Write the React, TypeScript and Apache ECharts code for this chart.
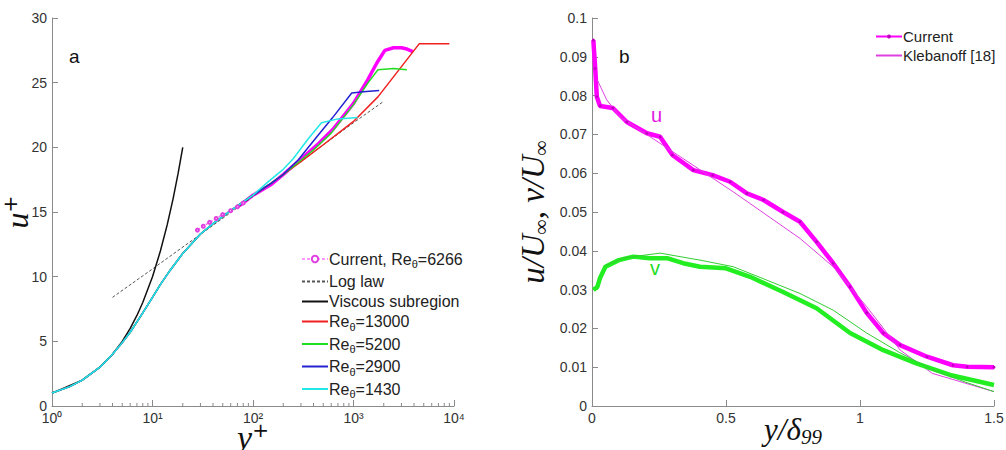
import React, { useEffect, useRef } from "react";
import * as echarts from "echarts";

// ---------- Panel a data: (y+, u+) ----------
const viscousSubregion: [number, number][] = [
  [1, 1], [2, 2], [3, 3], [4, 4], [5, 5], [6, 6], [7, 7], [8, 8], [10, 10],
  [12, 12], [14, 14], [16, 16], [18, 18], [20, 20],
];
const logLaw: [number, number][] = [
  [4, 8.4], [10, 10.6], [100, 16.2], [1000, 21.9], [1950, 23.5],
];
const innerProfile: [number, number][] = [
  [1, 1.0], [1.5, 1.5], [2, 2.0], [3, 3.0], [4, 4.0], [5, 4.9], [6, 5.7],
  [7, 6.5], [8, 7.2], [10, 8.4], [12, 9.4], [15, 10.5], [20, 11.8],
  [30, 13.3], [40, 14.1], [60, 15.1], [100, 16.3],
];
const re13000Outer: [number, number][] = [
  [150, 17.2], [200, 17.9], [300, 18.9], [500, 20.2], [1000, 22.0], [1750, 23.9],
  [4500, 28.0], [9000, 28.0],
];
const re5200Outer: [number, number][] = [
  [150, 17.2], [200, 17.9], [300, 19.0], [400, 19.8], [600, 21.1], [1000, 23.3],
  [1400, 25.0], [1750, 26.0], [2500, 26.1], [3400, 26.0],
];
const re2900Outer: [number, number][] = [
  [150, 17.2], [200, 17.9], [280, 19.0], [430, 20.8], [620, 22.3], [960, 24.2],
  [1250, 24.3], [1800, 24.4],
];
const re1430Outer: [number, number][] = [
  [150, 17.5], [200, 18.3], [250, 19.1], [350, 20.6], [480, 21.9],
  [700, 22.2], [1100, 22.3],
];
// sparse (low y+) part of the current profile, drawn with markers
const currentALow: [number, number][] = [
  [28, 13.6], [32, 13.9], [37, 14.2], [43, 14.5], [50, 14.8], [60, 15.1],
  [70, 15.4], [80, 15.7],
];
// dense part of the current profile
const currentAHigh: [number, number][] = [
  [70, 15.4], [80, 15.7], [100, 16.3], [150, 17.1], [200, 17.9], [300, 19.1],
  [450, 20.3], [625, 21.4], [1000, 23.4], [1380, 25.2], [1700, 26.5],
  [2050, 27.5], [2500, 27.7], [3000, 27.7], [3400, 27.6], [3900, 27.4],
];
const xMinorTicksA = [
  2, 3, 4, 5, 6, 7, 8, 9, 20, 30, 40, 50, 60, 70, 80, 90, 200, 300, 400, 500,
  600, 700, 800, 900, 2000, 3000, 4000, 5000, 6000, 7000, 8000, 9000,
];
const legendA = [
  "Current, Reθ=6266", "Log law", "Viscous subregion",
  "Reθ=13000", "Reθ=5200", "Reθ=2900", "Reθ=1430",
];

// ---------- Panel b data: (y/δ99, value) ----------
const currentU: [number, number][] = [
  [0.005, 0.0943], [0.012, 0.087], [0.018, 0.0797], [0.03, 0.0773],
  [0.078, 0.0768], [0.13, 0.0732], [0.205, 0.0703], [0.254, 0.0694],
  [0.30, 0.0647], [0.378, 0.0608], [0.45, 0.0595], [0.515, 0.0578],
  [0.578, 0.0548], [0.64, 0.0531], [0.713, 0.050], [0.776, 0.0475],
  [0.838, 0.0423], [0.90, 0.0368], [0.963, 0.0307], [1.025, 0.024],
  [1.087, 0.0188], [1.15, 0.0157], [1.25, 0.0127], [1.347, 0.0105],
  [1.40, 0.0101], [1.5, 0.0100],
];
const klebanoffU: [number, number][] = [
  [0.02, 0.084], [0.055, 0.0789], [0.105, 0.0745], [0.254, 0.0677],
  [0.527, 0.0552], [0.776, 0.0432], [0.90, 0.0359], [1.025, 0.0256],
  [1.15, 0.0144], [1.27, 0.0084], [1.5, 0.0037],
];
const currentV: [number, number][] = [
  [0.005, 0.0299], [0.02, 0.0307], [0.03, 0.033], [0.05, 0.0359],
  [0.10, 0.0376], [0.154, 0.0385], [0.216, 0.0381], [0.28, 0.0381],
  [0.34, 0.0368], [0.403, 0.0359], [0.50, 0.0355], [0.59, 0.0333],
  [0.713, 0.0294], [0.838, 0.0252], [0.963, 0.0188], [1.087, 0.0144],
  [1.21, 0.011], [1.336, 0.008], [1.5, 0.0054],
];
const klebanoffV: [number, number][] = [
  [0.05, 0.0362], [0.12, 0.0382], [0.254, 0.0394], [0.403, 0.0376],
  [0.527, 0.0359], [0.65, 0.0325], [0.776, 0.029], [0.90, 0.0247],
  [1.025, 0.0188], [1.15, 0.0137], [1.27, 0.0093], [1.4, 0.006],
  [1.5, 0.0037],
];
const legendB = ["Current", "Klebanoff [18]"];

const TICK = "#333";
const AXIS = "#8a8a8a";
const SANS = "'Liberation Sans', Arial, sans-serif";
const SERIF = "'Liberation Serif', 'DejaVu Serif', serif";

const mathName = (size: number) => ({
  fontFamily: SERIF, fontStyle: "italic", fontSize: size, color: "#111",
  rich: {
    sub: { fontFamily: SERIF, fontSize: 21, color: "#111", verticalAlign: "top", padding: [15, 0, 0, 0] },
    sup: { fontFamily: "'DejaVu Sans', sans-serif", fontSize: 20, color: "#111", verticalAlign: "bottom", padding: [0, 0, 14, 0] },
  },
});

export default function App() {
  const ref = useRef<HTMLDivElement>(null);
  useEffect(() => {
    if (!ref.current) return;
    const chart = echarts.init(ref.current, undefined, { renderer: "svg" });
    const thin = (color: string, w = 1.5) => ({ color, width: w });
    const noSym = { opacity: 0 };
    const option: any = {
      animation: false,
      backgroundColor: "#fff",
      grid: [
        { left: 52, top: 18, width: 402, height: 388, outerBoundsMode: "none", containLabel: false },
        { left: 592, top: 18, width: 402, height: 388, outerBoundsMode: "none", containLabel: false },
      ],
      xAxis: [
        {
          gridIndex: 0, type: "log", logBase: 10, min: 1, max: 10000,
          axisLine: { lineStyle: { color: AXIS } },
          axisTick: { inside: true, length: 6, lineStyle: { color: AXIS } },
          splitLine: { show: false },
          axisLabel: {
            color: TICK, fontSize: 14, fontFamily: SANS, margin: 5,
            formatter: (v: number) => "10" + ["⁰", "¹", "²", "³", "⁴"][Math.round(Math.log10(v))],
          },
          name: "y{sup|+}", nameLocation: "middle", nameGap: 14, nameMoveOverlap: false,
          nameTextStyle: mathName(34),
        },
        {
          gridIndex: 1, type: "value", min: 0, max: 1.5, interval: 0.5,
          axisLine: { lineStyle: { color: AXIS } },
          axisTick: { inside: true, length: 6, lineStyle: { color: AXIS } },
          splitLine: { show: false },
          axisLabel: { color: TICK, fontSize: 14, fontFamily: SANS, margin: 5 },
          name: "y/δ{sub|99}", nameLocation: "middle", nameGap: 5, nameMoveOverlap: false,
          nameTextStyle: mathName(31),
        },
      ],
      yAxis: [
        {
          gridIndex: 0, type: "value", min: 0, max: 30, interval: 5,
          axisLine: { show: true, lineStyle: { color: AXIS } },
          axisTick: { show: true, inside: true, length: 6, lineStyle: { color: AXIS } },
          splitLine: { show: false },
          axisLabel: { color: TICK, fontSize: 14, fontFamily: SANS, margin: 5 },
          name: "u{sup|+}", nameLocation: "middle", nameGap: 18, nameRotate: 90, nameMoveOverlap: false,
          nameTextStyle: mathName(32),
        },
        {
          gridIndex: 1, type: "value", min: 0, max: 0.1, interval: 0.01,
          axisLine: { show: true, lineStyle: { color: AXIS } },
          axisTick: { show: true, inside: true, length: 6, lineStyle: { color: AXIS } },
          splitLine: { show: false },
          axisLabel: {
            color: TICK, fontSize: 14, fontFamily: SANS, margin: 5,
            formatter: (v: number) => String(+v.toFixed(2)),
          },
          name: "u/U{sub|∞}, v/U{sub|∞}", nameLocation: "middle", nameGap: 41, nameRotate: 90, nameMoveOverlap: false,
          nameTextStyle: mathName(33),
        },
      ],
      legend: [
        {
          left: 296, top: 246, orient: "vertical", itemWidth: 26, itemHeight: 8, itemGap: 4,
          data: [
            { name: legendA[0], lineStyle: { type: [3, 2], color: "#ff77ff", width: 1.5 }, itemStyle: { color: "#e040e0" } },
            ...legendA.slice(1).map((n) => ({ name: n, itemStyle: noSym })),
          ],
          textStyle: {
            fontSize: 16, fontFamily: SANS, color: "#222", padding: [0, 0, 0, -4],
            rich: { sub: { fontSize: 11, fontFamily: SANS, color: "#222", verticalAlign: "top", padding: [10, 0, 0, 0] } },
          },
          formatter: (n: string) => n.replace("θ", "{sub|θ}"),
        },
        {
          left: 870, top: 24, orient: "vertical", itemWidth: 26, itemHeight: 5, itemGap: 4,
          data: [{ name: legendB[0] }, { name: legendB[1], itemStyle: noSym }],
          textStyle: { fontSize: 15, fontFamily: SANS, color: "#222", padding: [0, 0, 0, -4] },
        },
      ],
      graphic: [
        { type: "text", left: 69, top: 47, style: { text: "a", fontSize: 19, fontFamily: SANS, fill: "#111" } },
        { type: "text", left: 619, top: 47, style: { text: "b", fontSize: 19, fontFamily: SANS, fill: "#111" } },
        { type: "text", left: 651, top: 105, style: { text: "u", fontSize: 20, fontFamily: SANS, fill: "#e020e0" } },
        { type: "text", left: 650, top: 258, style: { text: "v", fontSize: 20, fontFamily: SANS, fill: "#22dd22" } },
      ],
      series: [
        {
          type: "custom", xAxisIndex: 0, yAxisIndex: 0, silent: true, clip: false,
          data: xMinorTicksA.map((v) => [v, 0]),
          renderItem: (_p: any, api: any) => {
            const pt = api.coord([api.value(0), 0]);
            return {
              type: "line",
              shape: { x1: pt[0], y1: pt[1], x2: pt[0], y2: pt[1] - 3 },
              style: { stroke: AXIS, lineWidth: 1 },
            };
          },
        },
        {
          name: legendA[0], type: "line", xAxisIndex: 0, yAxisIndex: 0, data: currentALow,
          symbol: "emptyCircle", symbolSize: 3, showSymbol: true,
          lineStyle: { color: "#ff66ff", width: 1.5, type: [3, 2] }, itemStyle: { color: "#e040e0" },
        },
        {
          name: legendA[0], type: "line", xAxisIndex: 0, yAxisIndex: 0, data: currentAHigh,
          symbol: "none",
          lineStyle: { color: "#ff00ff", width: 3.5 }, itemStyle: { color: "#ff00ff" },
        },
        {
          name: legendA[1], type: "line", xAxisIndex: 0, yAxisIndex: 0, data: logLaw, symbol: "none",
          lineStyle: { color: "#555", width: 1, type: [3, 2] }, itemStyle: { color: "#555" },
        },
        {
          name: legendA[2], type: "line", xAxisIndex: 0, yAxisIndex: 0, data: viscousSubregion, symbol: "none",
          lineStyle: thin("#111"), itemStyle: { color: "#111" },
        },
        {
          name: legendA[3], type: "line", xAxisIndex: 0, yAxisIndex: 0, data: [...innerProfile, ...re13000Outer], symbol: "none",
          lineStyle: thin("#f02020"), itemStyle: { color: "#f02020" },
        },
        {
          name: legendA[4], type: "line", xAxisIndex: 0, yAxisIndex: 0, data: [...innerProfile, ...re5200Outer], symbol: "none",
          lineStyle: thin("#22dd22"), itemStyle: { color: "#22dd22" },
        },
        {
          name: legendA[5], type: "line", xAxisIndex: 0, yAxisIndex: 0, data: [...innerProfile, ...re2900Outer], symbol: "none",
          lineStyle: thin("#2222d0"), itemStyle: { color: "#2222d0" },
        },
        {
          name: legendA[6], type: "line", xAxisIndex: 0, yAxisIndex: 0, data: [...innerProfile, ...re1430Outer], symbol: "none",
          lineStyle: thin("#22e8e8"), itemStyle: { color: "#22e8e8" },
        },
        {
          name: legendB[0], type: "line", xAxisIndex: 1, yAxisIndex: 1, data: currentU,
          symbol: "circle", symbolSize: 3, showSymbol: true,
          lineStyle: { color: "#ff00ff", width: 4.5 }, itemStyle: { color: "#c000c0" },
        },
        {
          name: legendB[1], type: "line", xAxisIndex: 1, yAxisIndex: 1, data: klebanoffU, symbol: "none",
          lineStyle: { color: "#e040e0", width: 1 }, itemStyle: { color: "#e040e0" },
        },
        {
          name: "Current v", type: "line", xAxisIndex: 1, yAxisIndex: 1, data: currentV, symbol: "none",
          lineStyle: { color: "#22ee22", width: 4.5 }, itemStyle: { color: "#22ee22" },
        },
        {
          name: "Klebanoff v", type: "line", xAxisIndex: 1, yAxisIndex: 1, data: klebanoffV, symbol: "none",
          lineStyle: { color: "#33cc33", width: 1 }, itemStyle: { color: "#33cc33" },
        },
      ],
    };
    chart.setOption(option);
    return () => chart.dispose();
  }, []);
  return (
    <div
      ref={ref}
      style={{ position: "absolute", left: 0, top: 0, width: 1006, height: 450, background: "#fff" }}
    />
  );
}
